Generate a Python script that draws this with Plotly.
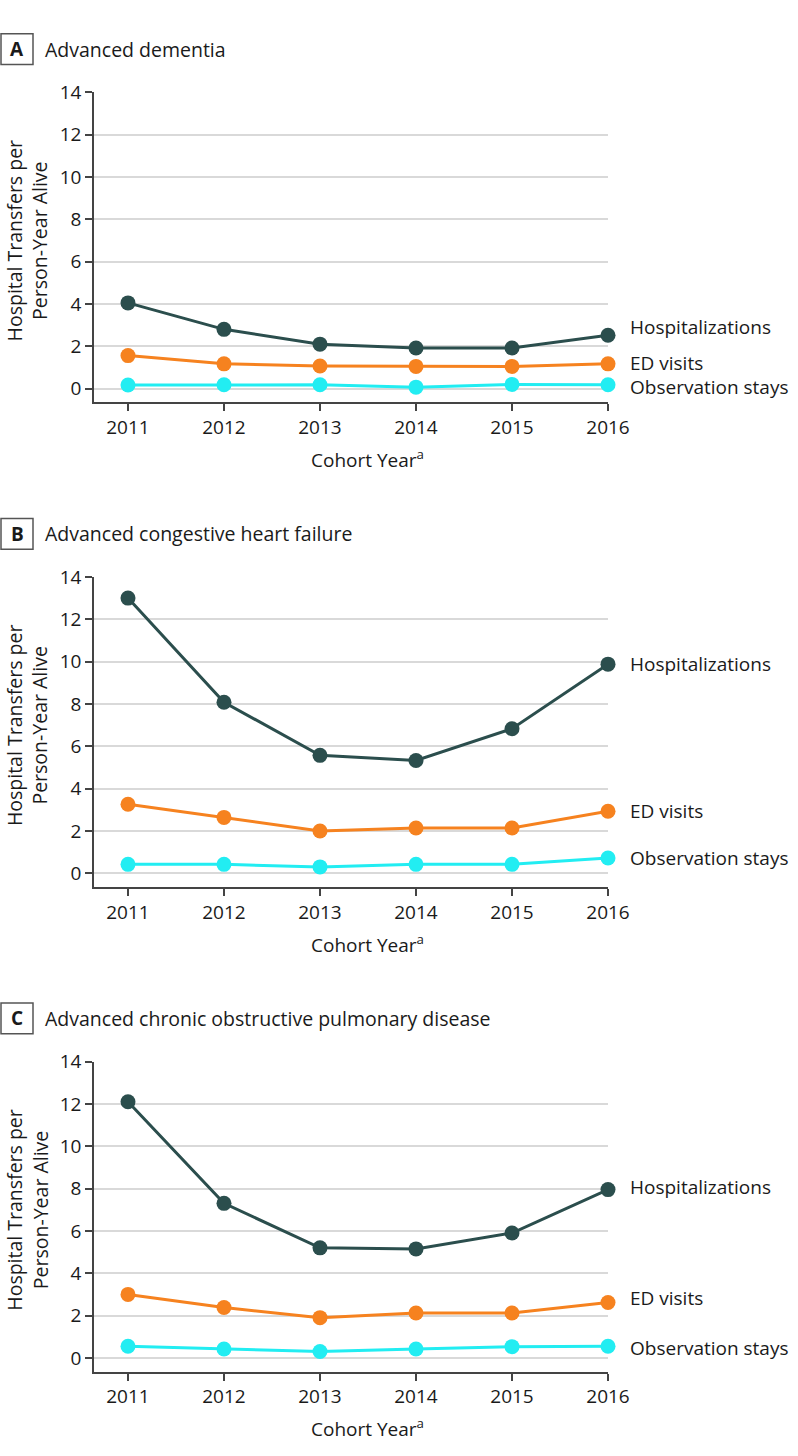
import plotly.graph_objects as go

years = [2011, 2012, 2013, 2014, 2015, 2016]
series_names = ["Hospitalizations", "ED visits", "Observation stays"]
panel_letters = ["A", "B", "C"]
panel_titles = [
    "Advanced dementia",
    "Advanced congestive heart failure",
    "Advanced chronic obstructive pulmonary disease",
]

dementia_hosp = [4.05, 2.8, 2.1, 1.92, 1.92, 2.52]
dementia_ed = [1.56, 1.17, 1.07, 1.05, 1.05, 1.17]
dementia_obs = [0.17, 0.18, 0.18, 0.07, 0.2, 0.18]

chf_hosp = [13.0, 8.08, 5.57, 5.33, 6.83, 9.88]
chf_ed = [3.26, 2.64, 2.0, 2.14, 2.14, 2.93]
chf_obs = [0.42, 0.42, 0.3, 0.42, 0.42, 0.72]

copd_hosp = [12.1, 7.3, 5.2, 5.15, 5.9, 7.95]
copd_ed = [3.0, 2.38, 1.9, 2.12, 2.12, 2.62]
copd_obs = [0.55, 0.42, 0.3, 0.42, 0.53, 0.55]

panels = [
    [dementia_hosp, dementia_ed, dementia_obs],
    [chf_hosp, chf_ed, chf_obs],
    [copd_hosp, copd_ed, copd_obs],
]
label_shift = [[8, 1, -2], [0, 0, 0], [3, 4, -2]]

y_ticks = [0, 2, 4, 6, 8, 10, 12, 14]
colors = ["#2b4e4d", "#f6821f", "#22edf2"]

W, H = 798, 1456
FONT = "Open Sans"
TXT = "#1a1a1a"
AX = "#444444"

x_left, x_right = 94, 608
panel_offset = 489
top0, bot0 = 80, 393
zero0 = 379


def py(pix):
    return 1 - pix / H


def px(pix):
    return (pix - x_left) / (x_right - x_left)


fig = go.Figure()
layout = dict(
    width=W, height=H,
    margin=dict(l=x_left, r=W - x_right, t=0, b=0),
    paper_bgcolor="white", plot_bgcolor="white",
    showlegend=False,
    font=dict(family=FONT, size=19, color=TXT),
)
annotations = []
shapes = []

for i, data in enumerate(panels):
    off = i * panel_offset
    top, bot = top0 + off, bot0 + off
    zero = zero0 + off
    xa = "x" if i == 0 else f"x{i+1}"
    ya = "y" if i == 0 else f"y{i+1}"
    xkey = "xaxis" if i == 0 else f"xaxis{i+1}"
    ykey = "yaxis" if i == 0 else f"yaxis{i+1}"
    layout[xkey] = dict(
        domain=[0, 1], anchor=ya,
        range=[2010.646, 2016.0],
        tickmode="array", tickvals=years, ticktext=[str(y) for y in years],
        showgrid=False, zeroline=False,
        showline=True, linecolor=AX, linewidth=1.5,
        ticks="outside", ticklen=7, tickwidth=1.5, tickcolor=AX,
        tickfont=dict(family=FONT, size=19, color=TXT),
    )
    layout[ykey] = dict(
        domain=[py(bot), py(top)], anchor=xa,
        range=[-0.655, 14],
        tickmode="array", tickvals=y_ticks,
        showgrid=True, gridcolor="#d9d9d9", gridwidth=2,
        zeroline=False,
        showline=True, linecolor=AX, linewidth=1.5,
        ticks="outside", ticklen=7, tickwidth=1.5, tickcolor=AX,
        tickfont=dict(family=FONT, size=19, color=TXT),
    )
    for s in range(3):
        vals = data[s]
        fig.add_trace(go.Scatter(
            x=years, y=vals, xaxis=xa, yaxis=ya,
            mode="lines+markers",
            line=dict(color=colors[s], width=3),
            marker=dict(color=colors[s], size=15),
            cliponaxis=False, name=series_names[s],
            hoverinfo="x+y+name",
        ))
        annotations.append(dict(
            x=years[-1], y=vals[-1], xref=xa, yref=ya,
            text=series_names[s], showarrow=False,
            xanchor="left", yanchor="middle", xshift=20, yshift=label_shift[i][s],
            font=dict(family=FONT, size=19, color=TXT),
        ))
    # panel letter box
    bx0, bx1 = 1, 33
    by0, by1 = 21 + off, 52 + off
    shapes.append(dict(
        type="rect", xref="paper", yref="paper",
        x0=px(bx0), x1=px(bx1),
        y0=py(by1), y1=py(by0),
        line=dict(color="#555555", width=1.5), fillcolor="white",
    ))
    annotations.append(dict(
        x=px((bx0 + bx1) / 2), y=py((by0 + by1) / 2),
        xref="paper", yref="paper", text=f"<b>{panel_letters[i]}</b>",
        showarrow=False, xanchor="center", yanchor="middle",
        font=dict(family=FONT, size=19, color=TXT),
    ))
    annotations.append(dict(
        x=px(43), y=py((by0 + by1) / 2),
        xref="paper", yref="paper", text=panel_titles[i],
        showarrow=False, xanchor="left", yanchor="middle",
        font=dict(family=FONT, size=19.5, color=TXT),
    ))
    # y axis title
    annotations.append(dict(
        x=px(27), y=py((top + zero) / 2),
        xref="paper", yref="paper",
        text="Hospital Transfers per<br>Person-Year Alive",
        showarrow=False, textangle=-90, xanchor="center", yanchor="middle",
        font=dict(family=FONT, size=19.5, color=TXT),
    ))
    # x axis title
    annotations.append(dict(
        x=2013.5, y=py(450 + off), xref=xa, yref="paper",
        text="Cohort Year<sup>a</sup>", showarrow=False,
        xanchor="center", yanchor="middle",
        font=dict(family=FONT, size=19, color=TXT),
    ))

layout["annotations"] = annotations
layout["shapes"] = shapes
fig.update_layout(**layout)
fig.write_html(
    "out.html",
    config={"displayModeBar": False},
    post_script="document.body.style.margin='0px'; document.body.style.overflow='hidden';",
)
